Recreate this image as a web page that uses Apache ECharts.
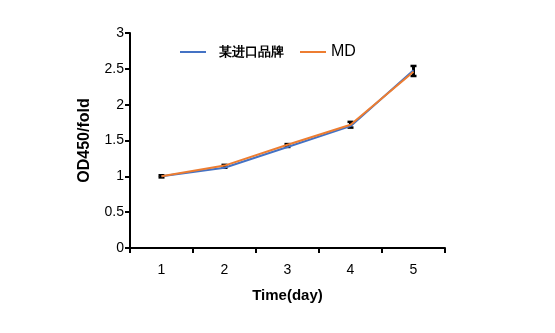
<!DOCTYPE html>
<html><head><meta charset="utf-8">
<script src="https://cdn.jsdelivr.net/npm/echarts@6/dist/echarts.min.js"></script>
<style>html,body{margin:0;padding:0;background:#fff}#c{width:555px;height:333px}</style>
</head><body><div id="c"></div>
<script>
const categories = ['1','2','3','4','5'];
const importedBrand = [1.0, 1.12, 1.41, 1.70, 2.48];
const mdValues = [1.0, 1.15, 1.44, 1.72, 2.46];
const errMean = [1.0, 1.14, 1.43, 1.72, 2.47];
const errSd = [0.015, 0.02, 0.02, 0.04, 0.07];
const yTicks = ['0','0.5','1','1.5','2','2.5','3'];

const chart = echarts.init(document.getElementById('c'));
const font = 'Liberation Sans, Arial, sans-serif';
chart.setOption({
  animation: false,
  grid: {left: 130, right: 110, top: 33, bottom: 85},
  legend: {
    top: 39, left: 175, itemWidth: 26, itemHeight: 2, itemGap: 16,
    textStyle: {fontFamily: font, fontWeight: 'bold', fontSize: 13, color: '#000'},
    data: [{name: '某进口品牌', icon: 'rect', textStyle: {padding: [0, 0, 0, 8]}},
           {name: 'MD', icon: 'rect', textStyle: {fontSize: 16, fontWeight: 'normal'}}]
  },
  xAxis: {
    type: 'category', data: categories, boundaryGap: true,
    name: 'Time(day)', nameLocation: 'middle', nameGap: 40,
    nameTextStyle: {fontFamily: font, fontWeight: 'bold', fontSize: 15, color: '#000'},
    axisLine: {lineStyle: {color: '#000', width: 2}},
    axisTick: {show: true, length: 5, lineStyle: {color: '#000', width: 2}, alignWithLabel: false},
    axisLabel: {fontFamily: font, fontSize: 14, color: '#000', margin: 15}
  },
  yAxis: {
    type: 'value', min: 0, max: 3, interval: 0.5,
    name: 'OD450/fold', nameLocation: 'middle', nameGap: 37, nameRotate: 90,
    nameTextStyle: {fontFamily: font, fontWeight: 'bold', fontSize: 16, color: '#000'},
    axisLine: {show: true, lineStyle: {color: '#000', width: 2}},
    axisTick: {show: true, length: 5, lineStyle: {color: '#000', width: 2}},
    splitLine: {show: false},
    axisLabel: {fontFamily: font, fontSize: 14, color: '#000', margin: 6,
      formatter: (v) => yTicks[Math.round(v / 0.5)]}
  },
  series: [
    {type: 'custom', name: 'err', z: 1,
      data: errMean.map((m, i) => [i, m - errSd[i], m + errSd[i]]),
      renderItem: (params, api) => {
        const lo = api.coord([api.value(0), api.value(1)]);
        const hi = api.coord([api.value(0), api.value(2)]);
        const w = 3;
        return {type: 'group', children: [
          {type: 'line', shape: {x1: lo[0], y1: lo[1], x2: hi[0], y2: hi[1]}, style: {stroke: '#000', lineWidth: 3}},
          {type: 'line', shape: {x1: lo[0]-w, y1: lo[1], x2: lo[0]+w, y2: lo[1]}, style: {stroke: '#000', lineWidth: 2.5}},
          {type: 'line', shape: {x1: hi[0]-w, y1: hi[1], x2: hi[0]+w, y2: hi[1]}, style: {stroke: '#000', lineWidth: 2.5}}
        ]};
      }
    },
    {type: 'line', name: '某进口品牌', data: importedBrand, symbol: 'none', z: 2,
      lineStyle: {color: '#4472C4', width: 2}, itemStyle: {color: '#4472C4'}},
    {type: 'line', name: 'MD', data: mdValues, symbol: 'none', z: 3,
      lineStyle: {color: '#ED7D31', width: 2}, itemStyle: {color: '#ED7D31'}}
  ]
});
</script></body></html>
